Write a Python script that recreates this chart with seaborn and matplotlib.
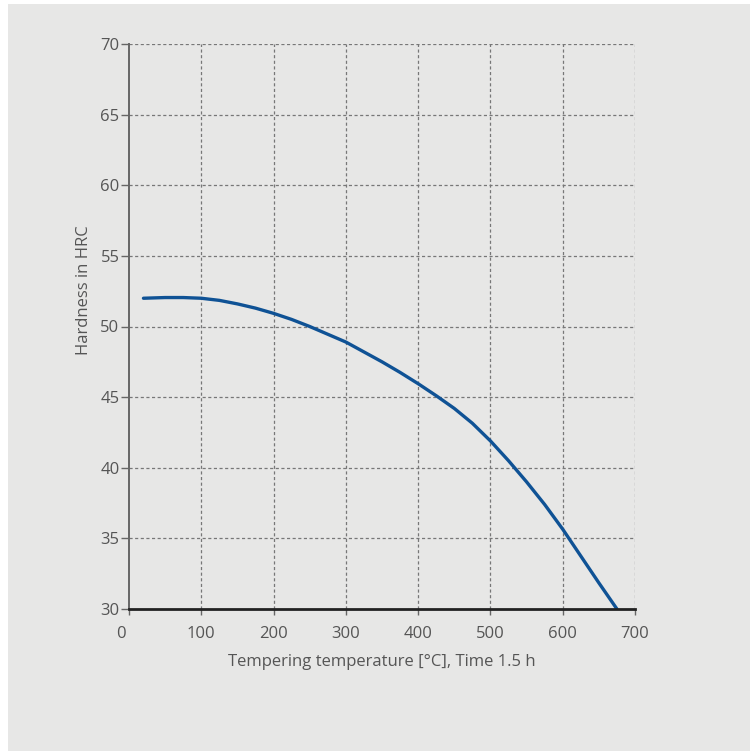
import matplotlib
matplotlib.use("Agg")
import matplotlib.pyplot as plt
from matplotlib.patches import Rectangle
from matplotlib.transforms import ScaledTranslation
import pandas as pd
import seaborn as sns

# tempering curve
temperature = [20, 50, 75, 100, 125, 150, 175, 200, 225, 250, 275, 300, 325, 350,
               375, 400, 425, 450, 475, 500, 525, 550, 575, 600, 625, 650, 675]
hardness = [52.0, 52.05, 52.05, 52.0, 51.85, 51.6, 51.3, 50.93, 50.5, 50.0, 49.45,
            48.9, 48.2, 47.5, 46.75, 45.95, 45.1, 44.2, 43.15, 41.9, 40.5, 39.0,
            37.4, 35.65, 33.75, 31.85, 30.0]

x_ticks = [0, 100, 200, 300, 400, 500, 600, 700]
y_ticks = [30, 35, 40, 45, 50, 55, 60, 65, 70]

bg = "#e7e7e6"
txt = "#555555"

sns.set_theme(style="ticks")
plt.rcParams['font.family'] = ['Open Sans', 'DejaVu Sans']

df = pd.DataFrame({"temp": temperature, "hrc": hardness})

fig = plt.figure(figsize=(7.5, 7.51), dpi=100, facecolor="white")
fig.patches.append(Rectangle((8 / 750, 0), 1, 1 - 4 / 751, transform=fig.transFigure,
                             facecolor=bg, edgecolor="none", zorder=-1))
ax = fig.add_axes([129 / 750, 1 - 609 / 751, 506 / 750, 565 / 751])
ax.set_facecolor(bg)

sns.lineplot(data=df, x="temp", y="hrc", ax=ax, color="#0f5295", linewidth=2.4, zorder=5)

ax.set_xlim(0, 700)
ax.set_ylim(30, 70)
ax.set_xticks(x_ticks)
ax.set_yticks(y_ticks)

# dashed grid, skipping the lines that sit on the solid axes
for xv in x_ticks[1:]:
    ax.axvline(xv, color="#777777", linestyle=(0, (2.5, 2)), linewidth=0.9, zorder=1)
for yv in y_ticks[1:]:
    ax.axhline(yv, color="#777777", linestyle=(0, (2.5, 2)), linewidth=0.9, zorder=1)

ax.spines["top"].set_visible(False)
ax.spines["right"].set_visible(False)
ax.spines["left"].set_color("#666666")
ax.spines["left"].set_linewidth(1.4)
ax.spines["bottom"].set_color("#222222")
ax.spines["bottom"].set_linewidth(2.0)
ax.spines["bottom"].set_zorder(6)

ax.tick_params(axis="both", colors="#666666", labelcolor=txt, labelsize=12, width=1.0)
ax.tick_params(axis="y", length=6, pad=0.8)
ax.tick_params(axis="x", length=4, pad=8.5)

# the "0" sits a little left of its tick in the original
lbl0 = ax.get_xticklabels()[0]
lbl0.set_transform(lbl0.get_transform() + ScaledTranslation(-8 / 100, 0, fig.dpi_scale_trans))

ax.set_xlabel("Tempering temperature [°C], Time 1.5 h", fontsize=12, color=txt, labelpad=8.5)
ax.set_ylabel("Hardness in HRC", fontsize=12, color=txt)
ax.yaxis.set_label_coords(-0.073, 0.565)

fig.savefig("out.png", dpi=100, facecolor="white")
